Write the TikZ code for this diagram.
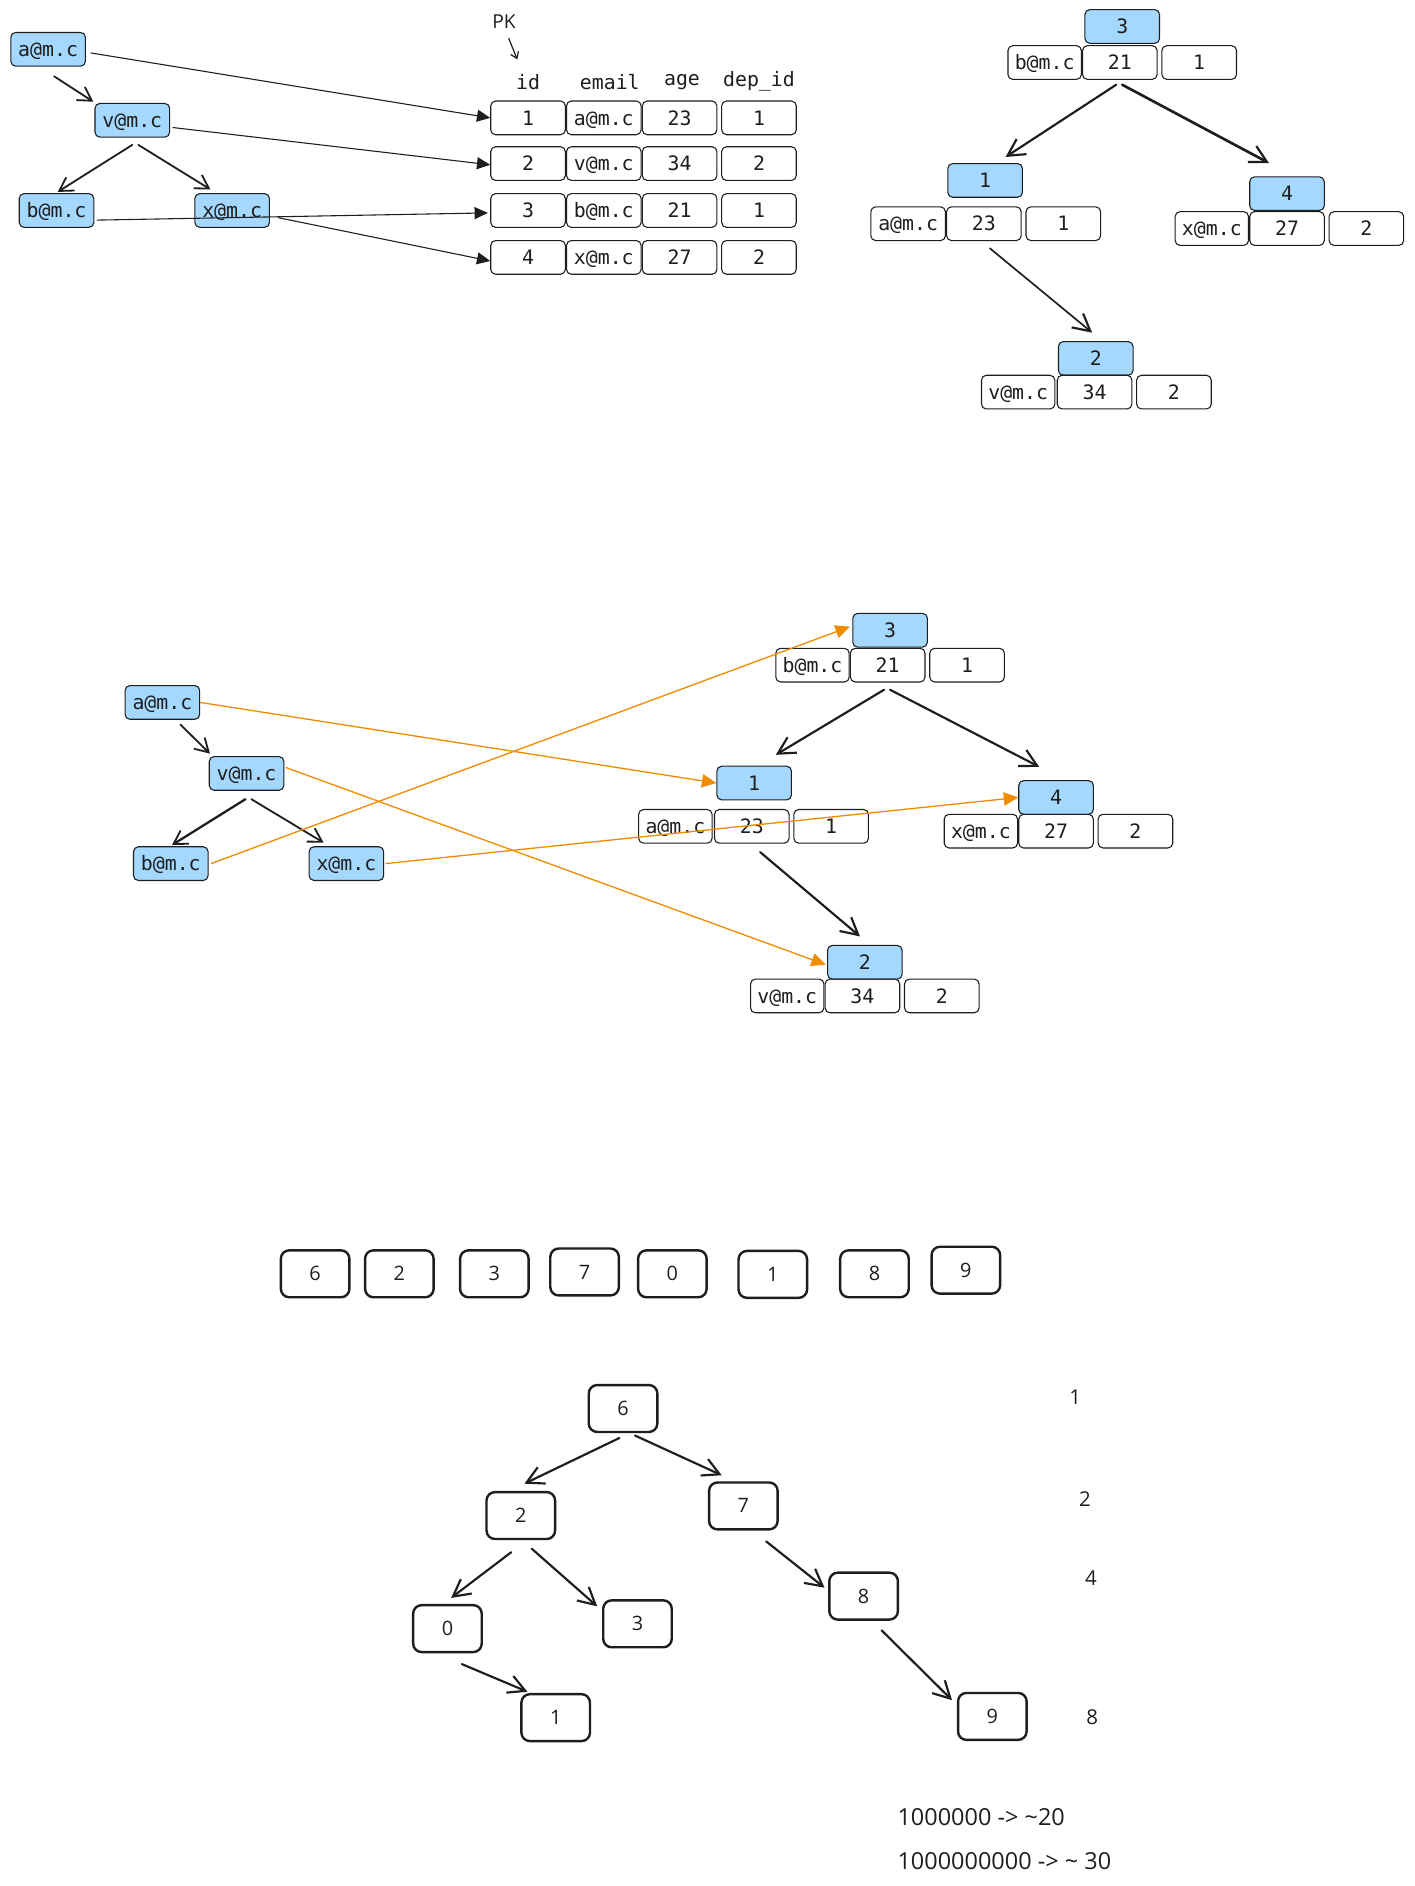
\documentclass[tikz,border=0pt]{standalone}
\usepackage{fontspec}
\usetikzlibrary{arrows.meta}
\newfontfamily\codefont{DejaVu Sans Mono}
\newfontfamily\handfont{Open Sans}
\definecolor{ink}{HTML}{1E1E1E}
\definecolor{skyfill}{HTML}{A5D8FF}
\definecolor{amber}{HTML}{F08C00}
\begin{document}
\begin{tikzpicture}[x=1pt,y=-1pt,
  cellbox/.style={rectangle,rounded corners=4pt,draw=ink,line width=0.9pt,
    minimum width=62pt,minimum height=28pt,inner sep=0pt,
    text height=12pt,text depth=0pt,
    font=\codefont\fontsize{16.5}{16.5}\selectfont,text=ink},
  keybox/.style={cellbox,fill=skyfill},
  headtxt/.style={font=\codefont\fontsize{16.5}{16.5}\selectfont,text=ink,inner sep=0pt},
  sketchbox/.style={rectangle,rounded corners=7pt,draw=ink,line width=2pt,
    minimum width=57pt,minimum height=39pt,inner sep=0pt,
    text height=11.7pt,text depth=0pt,
    font=\handfont\fontsize{16.5}{16.5}\selectfont,text=ink},
  handtxt/.style={font=\handfont\fontsize{16}{16}\selectfont,text=ink,inner sep=0pt},
  pointer/.style={draw=ink,line width=0.9pt,-{Triangle[length=11pt,width=10pt]}},
  orangeptr/.style={draw=amber,line width=1.1pt,-{Triangle[length=12pt,width=11pt]}},
  treelink/.style={draw=ink,line width=1.8pt,line cap=round,
    -{Straight Barb[length=14pt,width=15pt,line width=1.8pt]}},
  smalllink/.style={draw=ink,line width=1.5pt,line cap=round,
    -{Straight Barb[length=11pt,width=13pt,line width=1.5pt]}},
]
\useasboundingbox (0,0) rectangle (1176,1568);
\fill[white] (0,0) rectangle (1176,1568);

% ---------- email index (top left) ----------
\node[keybox] (ua) at (40,41)  {a@m.c};
\node[keybox] (uv) at (110,100) {v@m.c};
\node[keybox] (ub) at (47,175) {b@m.c};
\node[keybox] (ux) at (193,175) {x@m.c};

\draw[smalllink] ([xshift=5pt,yshift=-8pt]ua.south) -- ([xshift=-1pt,yshift=1pt]uv.north west);
\draw[smalllink] ([yshift=-6pt]uv.south) -- ([xshift=1pt,yshift=1pt]ub.north);
\draw[smalllink] ([xshift=5pt,yshift=-6pt]uv.south) -- ([xshift=-18pt,yshift=3pt]ux.north);

% ---------- table ----------
\node[handtxt] (pk) at (419,18) {PK};
\node[headtxt] (hid)  at (439,68) {id};
\node[headtxt] (hem)  at (507,68) {email};
\node[headtxt] (hage) at (567,68) {age};
\node[headtxt] (hdep) at (631,68) {dep\_id};
\draw[draw=ink,line width=1pt,line cap=round,-{Straight Barb[length=5pt,width=7pt]}]
  ([xshift=4pt,yshift=-8pt]pk.south) -- ([xshift=-9pt,yshift=12pt]hid.north);

\node[cellbox] (t1id) at (439,98) {1};
\node[cellbox] (t1em) at (502,98) {a@m.c};
\node[cellbox] (t1ag) at (565,98) {23};
\node[cellbox] (t1dp) at (631,98) {1};
\node[cellbox] (t2id) at (439,136) {2};
\node[cellbox] (t2em) at (502,136) {v@m.c};
\node[cellbox] (t2ag) at (565,136) {34};
\node[cellbox] (t2dp) at (631,136) {2};
\node[cellbox] (t3id) at (439,175) {3};
\node[cellbox] (t3em) at (502,175) {b@m.c};
\node[cellbox] (t3ag) at (565,175) {21};
\node[cellbox] (t3dp) at (631,175) {1};
\node[cellbox] (t4id) at (439,214) {4};
\node[cellbox] (t4em) at (502,214) {x@m.c};
\node[cellbox] (t4ag) at (565,214) {27};
\node[cellbox] (t4dp) at (631,214) {2};

\draw[pointer] ([xshift=4pt,yshift=-3pt]ua.east) -- (t1id.west);
\draw[pointer] ([xshift=2pt,yshift=-6pt]uv.east) -- ([yshift=-1pt]t2id.west);
\draw[pointer] ([xshift=2pt,yshift=-8pt]ub.east) -- ([xshift=-2pt,yshift=-2pt]t3id.west);
\draw[pointer] ([xshift=7pt,yshift=-6pt]ux.east) -- ([yshift=-3pt]t4id.west);

% ---------- clustered tree (top right) ----------
\node[keybox]  (k3)  at (933,22)   {3};
\node[cellbox,minimum width=61pt] (r3a) at (868.5,52) {b@m.c};
\node[cellbox] (r3b) at (931,52)   {21};
\node[cellbox] (r3c) at (997,52)   {1};
\node[keybox]  (k1)  at (819,150)  {1};
\node[cellbox] (r1a) at (755,186)  {a@m.c};
\node[cellbox] (r1b) at (818,186)  {23};
\node[cellbox] (r1c) at (884,186)  {1};
\node[keybox]  (k4)  at (1070,161) {4};
\node[cellbox,minimum width=61pt] (r4a) at (1007.5,190) {x@m.c};
\node[cellbox] (r4b) at (1070,190) {27};
\node[cellbox] (r4c) at (1136,190) {2};
\node[keybox]  (k2)  at (911,298)  {2};
\node[cellbox,minimum width=61pt] (r2a) at (846.5,326) {v@m.c};
\node[cellbox] (r2b) at (910,326)  {34};
\node[cellbox] (r2c) at (976,326)  {2};

\draw[treelink] ([xshift=-3pt,yshift=-4pt]r3b.south) -- ([xshift=17pt,yshift=5pt]k1.north);
\draw[treelink,line width=2.2pt] ([xshift=2pt,yshift=-4pt]r3b.south) -- ([xshift=-15pt,yshift=11pt]k4.north);
\draw[treelink,line width=1.4pt] ([xshift=5pt,yshift=-6pt]r1b.south) -- ([xshift=-3pt,yshift=7pt]k2.north);

% ---------- index pointing into the clustered tree (middle) ----------
\node[keybox] (ma) at (135,584) {a@m.c};
\node[keybox] (mv) at (205,643) {v@m.c};
\node[keybox] (mb) at (142,718) {b@m.c};
\node[keybox] (mx) at (288,718) {x@m.c};

\draw[smalllink] ([xshift=15pt,yshift=-4pt]ma.south) -- ([xshift=1pt,yshift=2pt]mv.north west);
\draw[smalllink,line width=1.9pt] ([xshift=-1pt,yshift=-7pt]mv.south) -- ([xshift=1pt,yshift=1pt]mb.north);
\draw[smalllink] ([xshift=4pt,yshift=-7pt]mv.south) -- ([xshift=-19pt,yshift=3pt]mx.north);

\node[keybox]  (m3k) at (740,524) {3};
\node[cellbox,minimum width=61pt] (m3a) at (675.5,553) {b@m.c};
\node[cellbox] (m3b) at (738,553) {21};
\node[cellbox] (m3c) at (804,553) {1};
\node[keybox]  (m1k) at (627,651) {1};
\node[cellbox,minimum width=61pt] (m1a) at (561.5,687) {a@m.c};
\node[cellbox] (m1b) at (625,687) {23};
\node[cellbox] (m1c) at (691,687) {1};
\node[keybox]  (m4k) at (878,663) {4};
\node[cellbox,minimum width=61pt] (m4a) at (815.5,691) {x@m.c};
\node[cellbox] (m4b) at (878,691) {27};
\node[cellbox] (m4c) at (944,691) {2};
\node[keybox]  (m2k) at (719,800) {2};
\node[cellbox,minimum width=61pt] (m2a) at (654.5,828) {v@m.c};
\node[cellbox] (m2b) at (717,828) {34};
\node[cellbox] (m2c) at (783,828) {2};

\draw[treelink] ([xshift=-3pt,yshift=-6pt]m3b.south) -- ([xshift=18pt,yshift=9pt]m1k.north);
\draw[treelink] ([xshift=2pt,yshift=-6pt]m3b.south) -- ([xshift=-14pt,yshift=11pt]m4k.north);
\draw[treelink] ([xshift=7pt,yshift=-7pt]m1b.south) -- ([xshift=-4pt,yshift=7pt]m2k.north);

\draw[orangeptr] (ma.east) -- (m1k.west);
\draw[orangeptr] ([xshift=2pt]mb.east) -- ([xshift=-2pt,yshift=3pt]m3k.west);
\draw[orangeptr] ([xshift=1pt,yshift=5pt]mv.east) -- ([xshift=-1pt,yshift=-2pt]m2k.west);
\draw[orangeptr] ([xshift=1pt]mx.east) -- (m4k.west);

% ---------- keys in insertion order ----------
\node[sketchbox] (s6) at (262,1059)   {6};
\node[sketchbox] (s2) at (332,1059)   {2};
\node[sketchbox] (s3) at (411,1059)   {3};
\node[sketchbox] (s7) at (486,1057.5) {7};
\node[sketchbox] (s0) at (559,1059)   {0};
\node[sketchbox] (s1) at (642.5,1059.5) {1};
\node[sketchbox] (s8) at (727,1059)   {8};
\node[sketchbox] (s9) at (803,1056)   {9};

% ---------- binary search tree ----------
\node[sketchbox] (b6) at (518,1171) {6};
\node[sketchbox] (b2) at (433,1260) {2};
\node[sketchbox] (b7) at (618,1252) {7};
\node[sketchbox] (b0) at (372,1354) {0};
\node[sketchbox] (b3) at (530,1350) {3};
\node[sketchbox] (b8) at (718,1327) {8};
\node[sketchbox] (b1) at (462,1428) {1};
\node[sketchbox] (b9) at (825,1427) {9};

\draw[treelink] ([xshift=-3pt,yshift=-4pt]b6.south) -- ([xshift=3pt,yshift=6pt]b2.north);
\draw[treelink] ([xshift=10pt,yshift=-2pt]b6.south) -- ([xshift=-18pt,yshift=5pt]b7.north);
\draw[treelink] ([xshift=-8pt,yshift=-10pt]b2.south) -- ([xshift=3pt,yshift=5pt]b0.north);
\draw[treelink] ([xshift=9pt,yshift=-7pt]b2.south) -- ([xshift=-4pt,yshift=-6pt]b3.north west);
\draw[treelink] ([xshift=19pt,yshift=-9pt]b7.south) -- ([xshift=-3pt,yshift=7pt]b8.west);
\draw[treelink] ([xshift=12pt,yshift=-9pt]b0.south) -- ([xshift=6pt,yshift=1pt]b1.north west);
\draw[treelink] ([xshift=15pt,yshift=-8pt]b8.south) -- ([xshift=-4pt,yshift=-7pt]b9.north west);

% level sizes
\node[handtxt,font=\handfont\fontsize{17}{17}\selectfont] (lv1) at (894,1162) {1};
\node[handtxt,font=\handfont\fontsize{17}{17}\selectfont] (lv2) at (902,1246) {2};
\node[handtxt,font=\handfont\fontsize{17}{17}\selectfont] (lv4) at (907,1312) {4};
\node[handtxt,font=\handfont\fontsize{17}{17}\selectfont] (lv8) at (908,1428) {8};

% depth estimates
\node[handtxt,anchor=west,font=\handfont\fontsize{19.5}{19.5}\selectfont] (est1) at (746,1511)
  {1000000 -> \textasciitilde 20};
\node[handtxt,anchor=west,font=\handfont\fontsize{19.5}{19.5}\selectfont] (est2) at (746,1547)
  {1000000000 -> \textasciitilde{} 30};
\end{tikzpicture}
\end{document}
